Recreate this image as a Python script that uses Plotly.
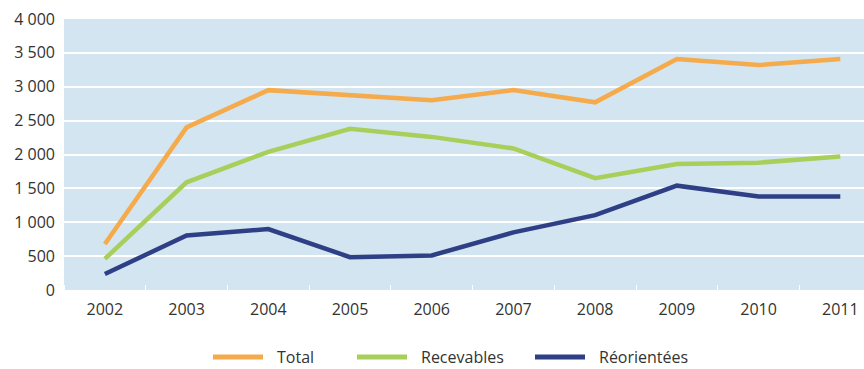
import plotly.graph_objects as go

years = [2002, 2003, 2004, 2005, 2006, 2007, 2008, 2009, 2010, 2011]
total = [680, 2400, 2950, 2880, 2800, 2950, 2770, 3410, 3320, 3410]
recevables = [460, 1590, 2040, 2380, 2260, 2090, 1650, 1860, 1880, 1970]
reorientees = [235, 805, 900, 485, 510, 850, 1105, 1540, 1380, 1380]
y_ticks = [0, 500, 1000, 1500, 2000, 2500, 3000, 3500, 4000]

names = ["Total", "Recevables", "Réorientées"]
colors = ["#F5AA4B", "#A9CF5B", "#2F3F85"]
series = [total, recevables, reorientees]

W, H = 864, 369
ML, MR, MT, MB = 64, 0, 19, 79
PW, PH = W - ML - MR, H - MT - MB

def px_x(p):
    return (p - ML) / PW

def px_y(p):
    return (H - MB - p) / PH

fig = go.Figure()
for name, vals, col in zip(names, series, colors):
    fig.add_trace(go.Scatter(x=years, y=vals, name=name, mode="lines",
                             line=dict(color=col, width=4.5), showlegend=False))

# custom legend (line sample + label)
legend_x = [213, 357, 535]
ly = 357
for lx, name, col in zip(legend_x, names, colors):
    fig.add_shape(type="line", xref="paper", yref="paper",
                  x0=px_x(lx), x1=px_x(lx + 50), y0=px_y(ly), y1=px_y(ly),
                  line=dict(color=col, width=5))
    fig.add_annotation(xref="paper", yref="paper", x=px_x(lx + 62), y=px_y(ly),
                       xanchor="left", yanchor="middle", text=name, showarrow=False,
                       font=dict(size=16, color="#333333"))

font_family = "Open Sans, Lato, sans-serif"
fig.update_layout(
    width=W, height=H,
    margin=dict(l=ML, r=MR, t=MT, b=MB),
    paper_bgcolor="white",
    plot_bgcolor="#D3E5F1",
    separators=", ",
    font=dict(family=font_family, size=16, color="#333333"),
    showlegend=False,
)
fig.update_xaxes(
    range=[2001.5, 2011.29], tickvals=years, ticktext=[str(y) for y in years],
    showgrid=False, zeroline=False, showline=False, ticks="",
    ticklabelstandoff=8,
    minor=dict(tickvals=[y + 0.5 for y in years[:-1]] + [2001.5], ticks="inside",
               ticklen=5, tickcolor="white", tickwidth=1, showgrid=False),
)
fig.update_yaxes(
    range=[0, 4000], tickvals=y_ticks, tickformat=",d", separatethousands=True,
    showgrid=True, gridcolor="white", gridwidth=1.5, zeroline=False,
    showline=False, ticks="", ticklabelstandoff=8,
)
fig.write_html("out.html")
